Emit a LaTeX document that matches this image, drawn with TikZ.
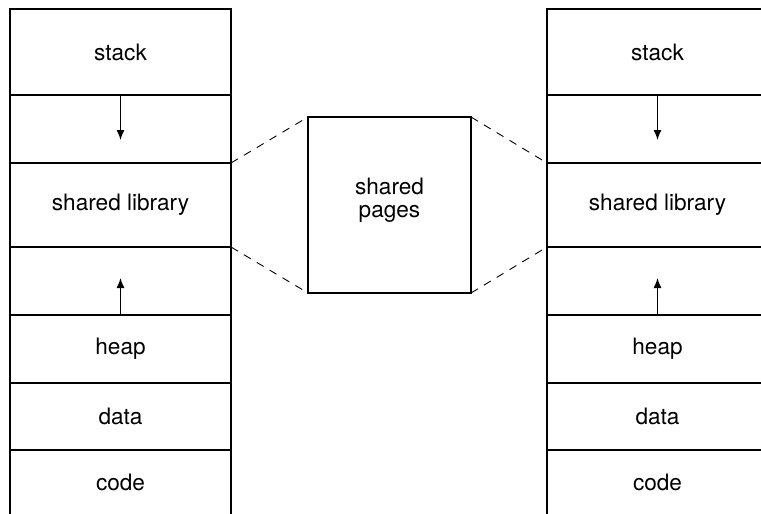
\documentclass[tikz,border=0pt]{standalone}
\usepackage{fontspec}
\setmainfont{TeX Gyre Heros}
\usetikzlibrary{arrows.meta}
\begin{document}
\begin{tikzpicture}[x=1pt,y=-1pt,line width=1.3pt,
  every node/.style={outer sep=0pt},
  txt/.style={font=\fontsize{22.6}{23}\selectfont},
  cell/.style={draw, anchor=north west, minimum width=221pt, inner sep=0pt, txt},
  opencell/.style={anchor=north west, minimum width=221pt, inner sep=0pt, txt},
  arr/.style={-{Latex[length=10pt,width=8pt]}},
  link/.style={dash pattern=on 8pt off 7pt, line width=0.9pt}]
\useasboundingbox (0,0) rectangle (761,514);
% left column
\node[cell, minimum height=86pt] (Lstack) at (10,9) {stack};
\node[cell, minimum height=68pt] (Lgap1) at (10,95) {};
\node[cell, minimum height=84pt] (Llib) at (10,163) {shared library};
\node[cell, minimum height=68pt] (Lgap2) at (10,247) {};
\node[cell, minimum height=68pt] (Lheap) at (10,315) {heap};
\node[cell, minimum height=67pt] (Ldata) at (10,383) {data};
\node[opencell, minimum height=64pt] (Lcode) at (10,450) {code};
\draw (Lcode.south west) -- (Lcode.north west) -- (Lcode.north east) -- (Lcode.south east);
\path (Lgap1.north) ++(0,45) coordinate (Ldown);
\draw[arr] (Lgap1.north) -- (Ldown);
\path (Lgap2.south) ++(0,-37) coordinate (Lup);
\draw[arr] (Lgap2.south) -- (Lup);
% right column
\node[cell, minimum height=86pt] (Rstack) at (547,9) {stack};
\node[cell, minimum height=68pt] (Rgap1) at (547,95) {};
\node[cell, minimum height=84pt] (Rlib) at (547,163) {shared library};
\node[cell, minimum height=68pt] (Rgap2) at (547,247) {};
\node[cell, minimum height=68pt] (Rheap) at (547,315) {heap};
\node[cell, minimum height=67pt] (Rdata) at (547,383) {data};
\node[opencell, minimum height=64pt] (Rcode) at (547,450) {code};
\draw (Rcode.south west) -- (Rcode.north west) -- (Rcode.north east) -- (Rcode.south east);
\path (Rgap1.north) ++(0,45) coordinate (Rdown);
\draw[arr] (Rgap1.north) -- (Rdown);
\path (Rgap2.south) ++(0,-37) coordinate (Rup);
\draw[arr] (Rgap2.south) -- (Rup);
% shared pages
\node[draw, minimum width=163pt, minimum height=176pt, inner sep=0pt] (sp) at (389.5,205) {};
\node[txt, align=center, inner sep=0pt] (sptext) at (389.5,200) {shared\\pages};
\draw[link] (Llib.north east) -- (sp.north west);
\draw[link] (Llib.south east) -- (sp.south west);
\draw[link] (sp.north east) -- (Rlib.north west);
\draw[link] (sp.south east) -- (Rlib.south west);
\end{tikzpicture}
\end{document}
